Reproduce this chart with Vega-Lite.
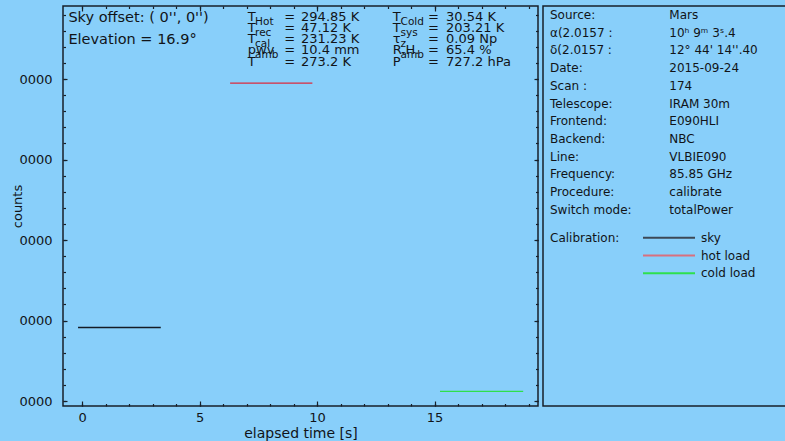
{
  "$schema": "https://vega.github.io/schema/vega-lite/v6.json",
  "background": "#88cffa",
  "padding": {"left": 10, "top": 4, "right": 0, "bottom": 0},
  "spacing": 2,
  "config": {
    "view": {"stroke": "#17202a", "strokeWidth": 1.5},
    "font": "DejaVu Sans",
    "axis": {"grid": false, "domain": false, "tickColor": "#17202a", "tickWidth": 1.2, "labelColor": "#111418", "titleColor": "#111418", "labelFont": "DejaVu Sans", "titleFont": "DejaVu Sans", "labelFontSize": 13, "titleFontSize": 14, "titleFontWeight": "normal"},
    "text": {"font": "DejaVu Sans", "color": "#111418"}
  },
  "datasets": {
    "lines": [
      {"series": "sky", "start": -0.17, "end": 3.35, "counts": 2091300},
      {"series": "hot load", "start": 6.3, "end": 9.8, "counts": 2395000},
      {"series": "cold load", "start": 15.23, "end": 18.77, "counts": 2012000}
    ],
    "info": [
      {"label": "Source:", "value": "Mars"},
      {"label": "α(2.0157 :", "value": "10ʰ 9ᵐ 3ˢ.4"},
      {"label": "δ(2.0157 :", "value": "12° 44' 14''.40"},
      {"label": "Date:", "value": "2015-09-24"},
      {"label": "Scan :", "value": "174"},
      {"label": "Telescope:", "value": "IRAM 30m"},
      {"label": "Frontend:", "value": "E090HLI"},
      {"label": "Backend:", "value": "NBC"},
      {"label": "Line:", "value": "VLBIE090"},
      {"label": "Frequency:", "value": "85.85 GHz"},
      {"label": "Procedure:", "value": "calibrate"},
      {"label": "Switch mode:", "value": "totalPower"}
    ]
  },
  "hconcat": [
    {
      "width": 475,
      "height": 400,
      "layer": [
        {
          "data": {"name": "lines"},
          "mark": {"type": "rule", "strokeWidth": 1.3},
          "encoding": {
            "x": {"field": "start", "type": "quantitative", "scale": {"domain": [-0.81, 19.4], "nice": false, "zero": false},
                  "axis": {"orient": "bottom", "values": [0, 5, 10, 15], "tickSize": -5, "labelPadding": 10, "title": "elapsed time [s]", "titlePadding": 2}},
            "x2": {"field": "end"},
            "y": {"field": "counts", "type": "quantitative", "scale": {"domain": [1993800, 2490700], "nice": false, "zero": false},
                  "axis": {"orient": "left", "values": [2000000, 2100000, 2200000, 2300000, 2400000], "format": "d", "tickSize": -4, "labelPadding": 15, "labelLimit": 40,
                           "encoding": {"labels": {"dir": {"value": "rtl"}, "ellipsis": {"value": "\u200b"}}},
                           "title": "counts", "titleX": -42, "titleY": 200, "titleAngle": 270, "titleBaseline": "alphabetic", "titleAlign": "center", "titleFontSize": 13}},
            "color": {"field": "series", "type": "nominal", "scale": {"domain": ["sky", "hot load", "cold load"], "range": ["#141c26", "#dc2a3c", "#2ee04c"]}, "legend": null}
          }
        },
        {
          "data": {"name": "lines"},
          "mark": {"type": "point", "opacity": 0},
          "encoding": {
            "x": {"field": "start", "type": "quantitative", "axis": {"orient": "bottom", "values": [0,1,2,3,4,5,6,7,8,9,10,11,12,13,14,15,16,17,18,19], "tickSize": -2.5, "labels": false, "title": null}},
            "y": {"field": "counts", "type": "quantitative", "axis": {"orient": "left", "values": [2000000,2020000,2040000,2060000,2080000,2100000,2120000,2140000,2160000,2180000,2200000,2220000,2240000,2260000,2280000,2300000,2320000,2340000,2360000,2380000,2400000,2420000,2440000,2460000,2480000], "tickSize": -2.5, "labels": false, "title": null}}
          }
        },
        {
          "data": {"name": "lines"},
          "mark": {"type": "point", "opacity": 0},
          "encoding": {
            "x": {"field": "start", "type": "quantitative", "axis": {"orient": "top", "values": [0, 5, 10, 15], "tickSize": -5, "labels": false, "title": null}},
            "y": {"field": "counts", "type": "quantitative", "axis": {"orient": "right", "values": [2000000, 2100000, 2200000, 2300000, 2400000], "tickSize": -4, "labels": false, "title": null}}
          }
        },
        {
          "data": {"name": "lines"},
          "mark": {"type": "point", "opacity": 0},
          "encoding": {
            "x": {"field": "start", "type": "quantitative", "axis": {"orient": "top", "values": [0,1,2,3,4,5,6,7,8,9,10,11,12,13,14,15,16,17,18,19], "tickSize": -2.5, "labels": false, "title": null}},
            "y": {"field": "counts", "type": "quantitative", "axis": {"orient": "right", "values": [2000000,2020000,2040000,2060000,2080000,2100000,2120000,2140000,2160000,2180000,2200000,2220000,2240000,2260000,2280000,2300000,2320000,2340000,2360000,2380000,2400000,2420000,2440000,2460000,2480000], "tickSize": -2.5, "labels": false, "title": null}}
          }
        },
        {
          "data": {"values": [{}]},
          "mark": {"type": "text", "align": "left", "baseline": "alphabetic", "fontSize": 14.5, "lineHeight": 22.5, "text": ["Sky offset: ( 0'', 0'')", "Elevation = 16.9°"]},
          "encoding": {"x": {"datum": -0.58, "type": "quantitative", "axis": null}, "y": {"datum": 2471185, "type": "quantitative", "axis": null}}
        },
        {
          "data": {"values": [{}]},
          "mark": {"type": "text", "align": "left", "baseline": "alphabetic", "fontSize": 13, "lineHeight": 11.25, "text": ["T", "T", "T", "pwv", "T"]},
          "encoding": {"x": {"datum": 7.051, "type": "quantitative", "axis": null}, "y": {"datum": 2472427, "type": "quantitative", "axis": null}}
        },
        {
          "data": {"values": [{}]},
          "mark": {"type": "text", "align": "left", "baseline": "alphabetic", "fontSize": 10.5, "lineHeight": 11.25, "dy": 4, "text": ["Hot", "rec", "cal", "", "amb"]},
          "encoding": {"x": {"datum": 7.362, "type": "quantitative", "axis": null}, "y": {"datum": 2472427, "type": "quantitative", "axis": null}}
        },
        {
          "data": {"values": [{}]},
          "mark": {"type": "text", "align": "left", "baseline": "alphabetic", "fontSize": 13, "lineHeight": 11.25, "text": ["=", "=", "=", "=", "="]},
          "encoding": {"x": {"datum": 8.6, "type": "quantitative", "axis": null}, "y": {"datum": 2472427, "type": "quantitative", "axis": null}}
        },
        {
          "data": {"values": [{}]},
          "mark": {"type": "text", "align": "left", "baseline": "alphabetic", "fontSize": 13, "lineHeight": 11.25, "text": ["294.85 K", "47.12 K", "231.23 K", "10.4 mm", "273.2 K"]},
          "encoding": {"x": {"datum": 9.319, "type": "quantitative", "axis": null}, "y": {"datum": 2472427, "type": "quantitative", "axis": null}}
        },
        {
          "data": {"values": [{}]},
          "mark": {"type": "text", "align": "left", "baseline": "alphabetic", "fontSize": 13, "lineHeight": 11.25, "text": ["T", "T", "τ", "R.H.", "P"]},
          "encoding": {"x": {"datum": 13.221, "type": "quantitative", "axis": null}, "y": {"datum": 2472427, "type": "quantitative", "axis": null}}
        },
        {
          "data": {"values": [{}]},
          "mark": {"type": "text", "align": "left", "baseline": "alphabetic", "fontSize": 10.5, "lineHeight": 11.25, "dy": 4, "text": ["Cold", "sys", "z", "", "amb"]},
          "encoding": {"x": {"datum": 13.553, "type": "quantitative", "axis": null}, "y": {"datum": 2472427, "type": "quantitative", "axis": null}}
        },
        {
          "data": {"values": [{}]},
          "mark": {"type": "text", "align": "left", "baseline": "alphabetic", "fontSize": 13, "lineHeight": 11.25, "text": ["=", "=", "=", "=", "="]},
          "encoding": {"x": {"datum": 14.723, "type": "quantitative", "axis": null}, "y": {"datum": 2472427, "type": "quantitative", "axis": null}}
        },
        {
          "data": {"values": [{}]},
          "mark": {"type": "text", "align": "left", "baseline": "alphabetic", "fontSize": 13, "lineHeight": 11.25, "text": ["30.54 K", "203.21 K", "0.09 Np", "65.4 %", "727.2 hPa"]},
          "encoding": {"x": {"datum": 15.489, "type": "quantitative", "axis": null}, "y": {"datum": 2472427, "type": "quantitative", "axis": null}}
        }
      ],
      "resolve": {"axis": {"x": "independent", "y": "independent"}}
    },
    {
      "width": 260,
      "height": 400,
      "layer": [
        {
          "data": {"name": "info"},
          "mark": {"type": "text", "align": "left", "baseline": "middle", "fontSize": 12},
          "encoding": {
            "x": {"datum": 7, "type": "quantitative", "scale": {"domain": [0, 260], "nice": false, "zero": false}, "axis": null},
            "y": {"field": "label", "type": "nominal", "sort": null, "scale": {"type": "point", "range": [9, 203.7], "padding": 0}, "axis": null},
            "text": {"field": "label"}
          }
        },
        {
          "data": {"name": "info"},
          "mark": {"type": "text", "align": "left", "baseline": "middle", "fontSize": 12},
          "encoding": {
            "x": {"datum": 126.3, "type": "quantitative", "axis": null},
            "y": {"field": "label", "type": "nominal", "sort": null, "scale": {"type": "point", "range": [9, 203.7], "padding": 0}, "axis": null},
            "text": {"field": "value"}
          }
        },
        {
          "data": {"name": "lines"},
          "mark": {"type": "rule", "strokeWidth": 2},
          "encoding": {
            "x": {"datum": 100, "type": "quantitative", "axis": null},
            "x2": {"datum": 152},
            "y": {"field": "series", "type": "nominal", "scale": {"type": "point", "domain": ["sky", "hot load", "cold load"], "range": [231.7, 267.3], "padding": 0}, "axis": null},
            "color": {"field": "series", "type": "nominal", "scale": {"domain": ["sky", "hot load", "cold load"], "range": ["#3c4856", "#d8707e", "#2ee04c"]}, "legend": null}
          }
        },
        {
          "data": {"name": "lines"},
          "mark": {"type": "text", "align": "left", "baseline": "middle", "fontSize": 12},
          "encoding": {
            "x": {"datum": 158, "type": "quantitative", "axis": null},
            "y": {"field": "series", "type": "nominal", "scale": {"type": "point", "domain": ["sky", "hot load", "cold load"], "range": [231.7, 267.3], "padding": 0}, "axis": null},
            "text": {"field": "series"}
          }
        },
        {
          "data": {"values": [{}]},
          "mark": {"type": "text", "align": "left", "baseline": "middle", "fontSize": 12, "text": "Calibration:"},
          "encoding": {
            "x": {"datum": 7, "type": "quantitative", "axis": null},
            "y": {"datum": "sky", "type": "nominal", "scale": {"type": "point", "domain": ["sky", "hot load", "cold load"], "range": [231.7, 267.3], "padding": 0}, "axis": null}
          }
        }
      ],
      "resolve": {"scale": {"y": "independent", "color": "independent"}}
    }
  ],
  "resolve": {"scale": {"color": "independent"}}
}
